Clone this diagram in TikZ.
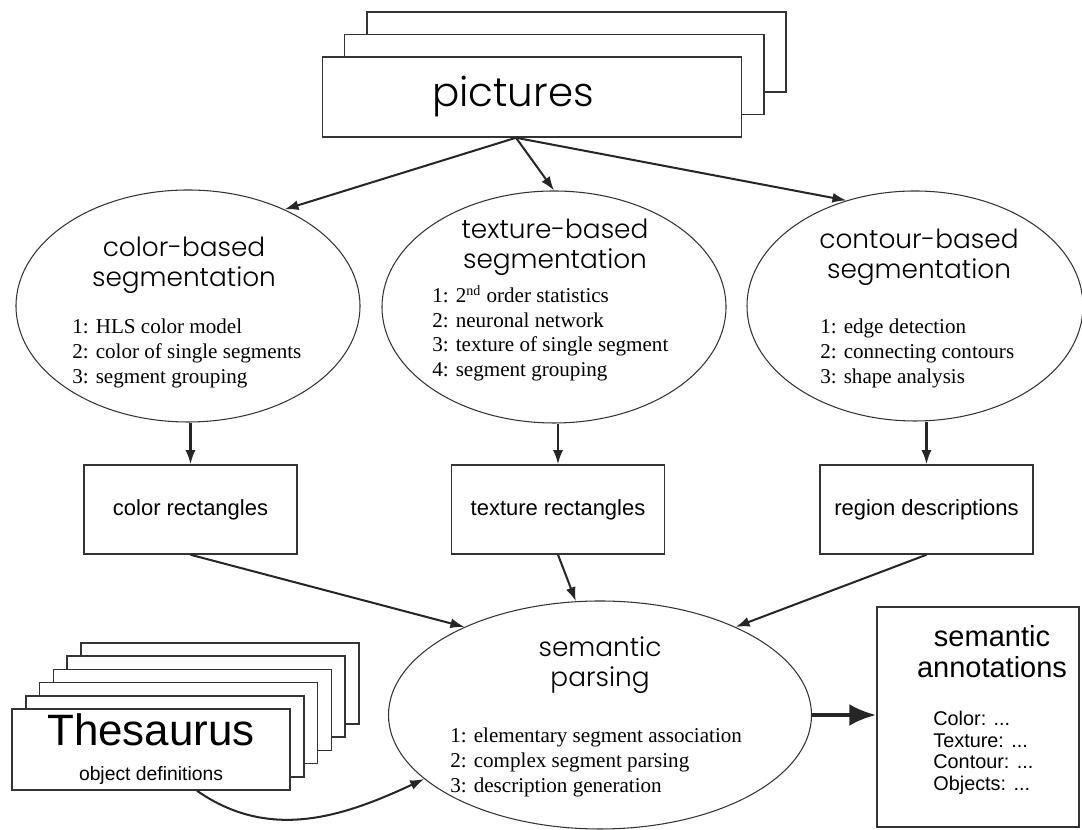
\documentclass[tikz,border=0pt]{standalone}
\usepackage{fontspec}
\setmainfont{Liberation Serif}
\newfontfamily\arialfont{Liberation Sans}
\newfontfamily\gothic{Poppins}[UprightFont={* Light}]
\usepackage{tikz}
\usetikzlibrary{arrows.meta,shapes.geometric,calc}

\begin{document}
\begin{tikzpicture}[
  box/.style={draw=black!80, line width=0.85pt, fill=white, inner sep=0pt},
  stackbox/.style={box, minimum width=8.38cm, minimum height=1.6cm},
  thesbox/.style={box, minimum width=5.56cm, minimum height=1.62cm},
  result/.style={box, minimum width=4.26cm, minimum height=1.78cm,
    font=\arialfont\fontsize{12.5}{14}\selectfont},
  seg/.style={draw=black!80, line width=0.6pt, ellipse, inner sep=0pt,
    minimum width=6.88cm, minimum height=4.64cm},
  head/.style={anchor=north, align=center, inner sep=0pt,
    font=\gothic\fontsize{15}{17}\selectfont},
  steps/.style={anchor=north west, align=left, inner sep=0pt,
    font=\fontsize{12}{14}\selectfont},
  flow/.style={-{Latex[length=2.8mm,width=2mm]}, line width=1.15pt, draw=black!85},
  bigflow/.style={-{Latex[length=5.4mm,width=4.4mm]}, line width=2.3pt, draw=black!85}
]
\useasboundingbox (0,0) rectangle (21.64,16.6);

% Picture stack.
\foreach \i in {2,1}
  \node[stackbox] (pics\i) at (10.64+0.445*\i,14.66+0.45*\i) {};
\node[stackbox, font=\gothic\fontsize{23}{26}\selectfont] (pics) at (10.64,14.66) {\hspace*{-0.76cm}pictures};

% Segmentation ellipses.
\node[seg] (colseg) at (3.76,10.48) {};
\node[seg] (texseg) at (11.08,10.46) {};
\node[seg, minimum width=6.72cm, minimum height=4.6cm] (conseg) at (18.30,10.48) {};

\node[head] (colhead) at (3.68,11.86) {color-based\\segmentation};
\node[steps] (collist) at (1.44,10.22) {1: HLS color model\\2: color of single segments\\3: segment grouping};

\node[head] (texhead) at (11.10,12.22) {texture-based\\segmentation};
\node[steps] (texlist) at (8.64,10.90) {1: 2\textsuperscript{nd} order statistics\\2: neuronal network\\3: texture of single segment\\4: segment grouping};

\node[head] (conhead) at (18.38,12.02) {contour-based\\segmentation};
\node[steps] (conlist) at (16.40,10.22) {1: edge detection\\2: connecting contours\\3: shape analysis};

% Segmentation results.
\node[result] (colrect) at (3.81,6.41) {color rectangles};
\node[result] (texrect) at (11.16,6.41) {texture rectangles};
\node[result] (conrect) at (18.53,6.41) {region descriptions};

% Semantic parsing.
\node[seg, minimum width=8.46cm, minimum height=4.56cm] (sempar) at (12.0,2.30) {};
\node[head] (semhead) at (12.0,3.88) {semantic\\parsing};
\node[steps] (semlist) at (9.0,2.04) {1: elementary segment association\\2: complex segment parsing\\3: description generation};

% Thesaurus stack.
\foreach \i in {5,4,...,1}
  \node[thesbox] (thes\i) at (3.02+0.276*\i,1.61+0.264*\i) {};
\node[thesbox, align=center, font=\arialfont\fontsize{11}{20}\selectfont] (thes) at (3.02,1.61)
  {{\fontsize{25}{26}\selectfont Thesaurus}\\object definitions};

% Annotations.
\node[box, minimum width=4.04cm, minimum height=4.4cm] (annot) at (19.56,2.26) {};
\node[head, font=\arialfont\fontsize{16.5}{18}\selectfont] (annhead) at (19.84,4.10) {semantic\\annotations};
\node[steps, font=\arialfont\fontsize{11.3}{12.2}\selectfont] (annlist) at (18.66,2.38) {Color: ...\\Texture: ...\\Contour: ...\\Objects: ...};

% Pictures to segmentation.
\draw[flow] ([xshift=-0.32cm]pics.south) -- (colseg.45);
\draw[flow] ([xshift=-0.32cm]pics.south) -- (texseg.north);
\draw[flow] ([xshift=-0.32cm]pics.south) -- (conseg.123);

% Segmentation to results.
\draw[flow] (colseg.south -| colrect.north) -- (colrect.north);
\draw[flow] (texseg.south -| texrect.north) -- (texrect.north);
\draw[flow] (conseg.south -| conrect.north) -- (conrect.north);

% Results to parsing.
\draw[flow] (colrect.south) -- (sempar.147);
\draw[flow] (texrect.south) -- (sempar.102);
\draw[flow] (conrect.south) -- (sempar.33);
\draw[flow] ([xshift=0.92cm]thes.south) to[out=-35,in=205] (sempar.200);

\draw[bigflow] (sempar.east) -- (sempar.east -| annot.west);

\end{tikzpicture}
\end{document}
